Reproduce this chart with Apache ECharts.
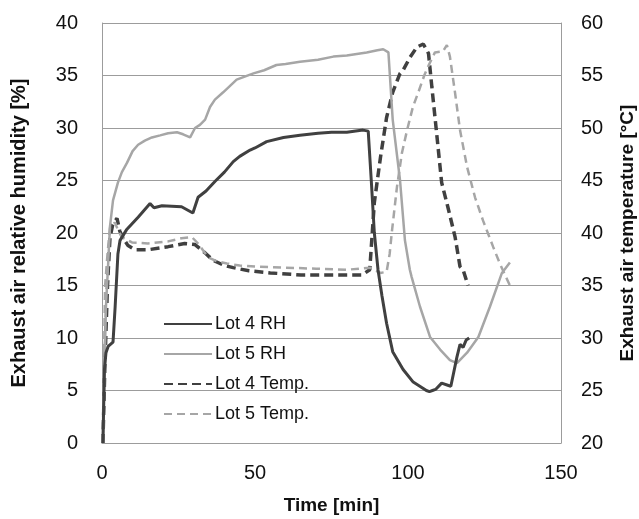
<!DOCTYPE html>
<html>
<head>
<meta charset="utf-8">
<script src="https://cdn.jsdelivr.net/npm/echarts@6/dist/echarts.min.js"></script>
<style>
  html, body { margin: 0; padding: 0; background: #fff; }
  #chart { width: 639px; height: 519px; }
</style>
</head>
<body>
<div id="chart"></div>
<script>
// time [min] and values
var lot4RhTime = [0.3, 0.8, 1.3, 2, 3.6, 4.3, 5.2, 5.9, 8, 11.8, 15.7, 17, 19.6, 26, 29.7, 31.4, 34, 36.9, 40, 42.9, 45, 48.4, 50, 53.8, 59.3, 64.7, 70.6, 75, 80, 85.3, 87, 88, 89, 90.2, 91.5, 93, 95, 98.4, 101.7, 105, 106, 107, 108, 109, 111, 113, 114, 116, 117, 118, 119, 120];
var lot4RhValue = [0, 7, 8.6, 9.2, 9.6, 13, 18, 19.3, 20.3, 21.5, 22.8, 22.4, 22.6, 22.5, 21.9, 23.4, 24, 24.9, 25.8, 26.8, 27.3, 27.9, 28.1, 28.7, 29.1, 29.3, 29.5, 29.6, 29.6, 29.8, 29.7, 25, 20, 16.5, 14, 11.4, 8.7, 7, 5.8, 5.2, 5.0, 4.9, 5.0, 5.1, 5.7, 5.5, 5.4, 8.2, 9.4, 9.1, 9.8, 10.0];

var lot5RhTime = [0.3, 0.8, 1.3, 2, 2.6, 3.6, 5.2, 6.5, 8.2, 10, 11.8, 14, 16.3, 19, 21.6, 24.5, 26.5, 28.8, 30.4, 32, 33.7, 35.3, 36.9, 39.6, 44, 49.5, 53, 57, 60, 64.7, 70.6, 75.6, 80, 86.5, 90, 91.9, 93.6, 95, 97.4, 99, 100.6, 101.2, 103.9, 107.2, 110.5, 113.7, 116, 119.3, 123, 126.8, 130.7, 133.3];
var lot5RhValue = [0, 7, 13, 17, 20.6, 23.1, 24.8, 25.8, 26.7, 27.8, 28.4, 28.8, 29.1, 29.3, 29.5, 29.6, 29.4, 29.1, 30.0, 30.3, 30.8, 32.0, 32.7, 33.4, 34.6, 35.2, 35.5, 36.0, 36.1, 36.3, 36.5, 36.8, 36.9, 37.2, 37.4, 37.5, 37.2, 30.8, 25, 19.3, 16.5, 15.8, 13, 10.1, 8.9, 7.9, 7.6, 8.6, 10.1, 13, 16.2, 17.2];

var lot4TempTime = [0.3, 1, 1.8, 2.6, 3.5, 4.9, 5.8, 6.9, 8.5, 10.8, 15, 21.6, 27, 30.4, 33.7, 36.3, 40, 42.9, 48, 55, 65, 75, 85, 87.5, 89, 91, 93, 95, 97.4, 98.4, 100.6, 102.9, 105, 106.7, 107.8, 109.5, 111, 113, 115.4, 117, 118, 119.6];
var lot4TempValue = [20, 28, 35, 39.5, 40.8, 41.4, 40.2, 39.5, 38.8, 38.4, 38.4, 38.7, 39.0, 38.9, 38.1, 37.4, 36.9, 36.7, 36.4, 36.2, 36.0, 36.0, 36.0, 36.5, 42.9, 47.2, 51, 53.4, 55.2, 55.5, 56.7, 57.7, 58, 57.1, 53.9, 49.1, 44.8, 42.5, 39.6, 36.8, 36.5, 35.0];

var lot5TempTime = [0.2, 0.6, 1, 1.8, 2.6, 4.2, 5.2, 6.5, 9.8, 15, 21.6, 26, 29.4, 31.4, 34.6, 37.5, 40.8, 45, 50, 60, 70, 80, 87.6, 89.5, 91, 93, 94, 94.8, 96.4, 98, 99.7, 101.6, 103.5, 105.3, 106.8, 108.8, 111.4, 112.7, 113.7, 115.4, 117, 119.3, 121.9, 124.5, 127.8, 130, 133.3];
var lot5TempValue = [20, 27, 34.9, 38, 40.5, 41, 40.3, 39.6, 39.1, 39.0, 39.2, 39.5, 39.6, 39.0, 37.7, 37.3, 37.1, 36.9, 36.8, 36.7, 36.6, 36.5, 36.7, 36.4, 36.2, 36.3, 38, 40.3, 44.4, 47.6, 49.8, 52, 53.5, 55, 56, 57.2, 57.3, 57.9, 56.8, 53.3, 49.8, 46.3, 43.4, 41.2, 38.7, 37.1, 35.0];

var xTicks = [0, 50, 100, 150];

function pairs(t, v) {
  return t.map(function (x, i) { return [x, v[i]]; });
}

var dark = '#404040';
var light = '#a6a6a6';
var gridGray = '#9c9c9c';
var font = 'Liberation Sans, Arial, sans-serif';

var chart = echarts.init(document.getElementById('chart'));

var option = {
  animation: false,
  backgroundColor: '#fff',
  textStyle: { fontFamily: font, color: '#111' },
  grid: { left: 102, right: 78, top: 23, bottom: 76, outerBoundsMode: 'none' },
  legend: {
    orient: 'vertical',
    left: 158,
    top: 310,
    itemWidth: 48,
    itemHeight: 18,
    itemGap: 12,
    itemStyle: { opacity: 0 },
    textStyle: { fontSize: 18, fontFamily: font, color: '#111', padding: [0, 0, 0, -2] },
    data: ['Lot 4 RH', 'Lot 5 RH', 'Lot 4 Temp.', 'Lot 5 Temp.']
  },
  xAxis: {
    type: 'value',
    min: 0,
    max: 150,
    interval: 50,
    name: 'Time [min]',
    nameLocation: 'middle',
    nameGap: 53,
    nameTextStyle: { fontSize: 19, fontWeight: 'bold', color: '#111' },
    axisLine: { show: true, lineStyle: { color: gridGray, width: 1 } },
    axisTick: { show: false },
    splitLine: { show: false },
    axisLabel: {
      fontSize: 20, color: '#111', margin: 20,
      formatter: function (v) { return xTicks.indexOf(v) >= 0 ? String(v) : ''; }
    }
  },
  yAxis: [{
    type: 'value',
    min: 0,
    max: 40,
    interval: 5,
    name: 'Exhaust air relative humidity [%]',
    nameLocation: 'middle',
    nameGap: 73,
    nameTextStyle: { fontSize: 20, fontWeight: 'bold', color: '#111' },
    axisLine: { show: true, lineStyle: { color: gridGray, width: 1 } },
    axisTick: { show: false },
    axisLabel: { fontSize: 20, color: '#111', margin: 24 },
    splitLine: { show: true, lineStyle: { color: gridGray, width: 1 } }
  }, {
    type: 'value',
    min: 20,
    max: 60,
    interval: 5,
    position: 'right',
    name: 'Exhaust air temperature [°C]',
    nameLocation: 'middle',
    nameGap: 57,
    nameRotate: 90,
    nameTextStyle: { fontSize: 19, fontWeight: 'bold', color: '#111' },
    axisLine: { show: true, lineStyle: { color: gridGray, width: 1 } },
    axisTick: { show: false },
    axisLabel: { fontSize: 20, color: '#111', margin: 20 },
    splitLine: { show: false }
  }],
  series: [{
    name: 'Lot 4 RH',
    type: 'line',
    yAxisIndex: 0,
    symbol: 'none',
    color: dark,
    lineStyle: { color: dark, width: 3 },
    data: pairs(lot4RhTime, lot4RhValue),
    z: 4
  }, {
    name: 'Lot 5 RH',
    type: 'line',
    yAxisIndex: 0,
    symbol: 'none',
    color: light,
    lineStyle: { color: light, width: 2.5 },
    data: pairs(lot5RhTime, lot5RhValue),
    z: 3
  }, {
    name: 'Lot 4 Temp.',
    type: 'line',
    yAxisIndex: 1,
    symbol: 'none',
    color: dark,
    lineStyle: { color: dark, width: 3.5, type: [9, 5] },
    data: pairs(lot4TempTime, lot4TempValue),
    z: 2
  }, {
    name: 'Lot 5 Temp.',
    type: 'line',
    yAxisIndex: 1,
    symbol: 'none',
    color: light,
    lineStyle: { color: light, width: 2.5, type: [8, 5] },
    data: pairs(lot5TempTime, lot5TempValue),
    z: 2
  }]
};

chart.setOption(option);
</script>
</body>
</html>
